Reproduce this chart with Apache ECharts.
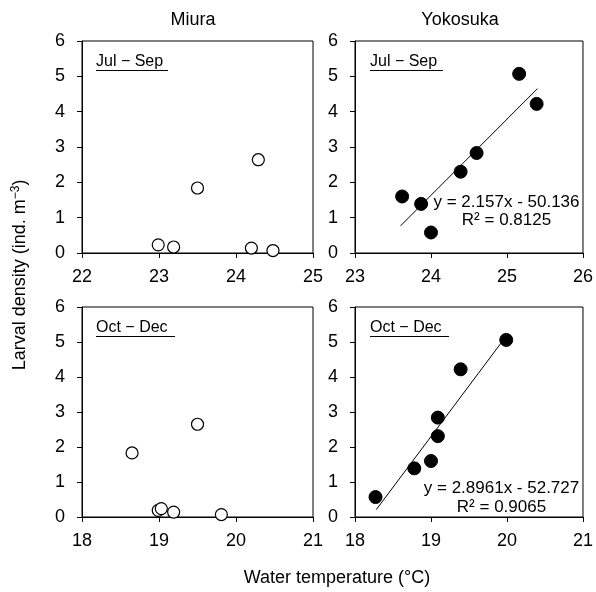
<!DOCTYPE html>
<html><head><meta charset="utf-8">
<script src="https://cdn.jsdelivr.net/npm/echarts@6/dist/echarts.min.js"></script>
<style>html,body{margin:0;padding:0;background:#fff}#c{width:596px;height:592px}</style>
</head><body><div id="c"></div>
<script>
// ---- data ----
const panelTitles = ['Miura', 'Yokosuka'];
const seasonLabels = ['Jul \u2212 Sep', 'Oct \u2212 Dec'];

const miuraJulSepX = [22.99, 23.19, 23.50, 24.29, 24.20, 24.48];
const miuraJulSepY = [0.23, 0.17, 1.84, 2.64, 0.14, 0.07];

const yokoJulSepX = [23.62, 23.87, 24.00, 24.39, 24.60, 25.16, 25.39];
const yokoJulSepY = [1.60, 1.39, 0.58, 2.30, 2.83, 5.07, 4.22];

const miuraOctDecX = [18.65, 19.50, 18.99, 19.03, 19.19, 19.81];
const miuraOctDecY = [1.83, 2.65, 0.19, 0.24, 0.14, 0.07];

const yokoOctDecX = [18.27, 18.78, 19.00, 19.09, 19.09, 19.39, 19.99];
const yokoOctDecY = [0.57, 1.39, 1.60, 2.31, 2.84, 4.22, 5.06];

const trendJulSepX = [23.6, 25.4];
const trendJulSepY = [0.77, 4.65];
const trendOctDecX = [18.28, 19.98];
const trendOctDecY = [0.21, 5.14];

const eqJulSep = ['y = 2.157x - 50.136', 'R\u00b2 = 0.8125'];
const eqOctDec = ['y = 2.8961x - 52.727', 'R\u00b2 = 0.9065'];

const xRanges = [[22, 25], [23, 26], [18, 21], [18, 21]];
const yRange = [0, 6];

const yAxisTitle = 'Larval density (ind. m';
const xAxisTitle = 'Water temperature (\u00b0C)';

// ---- chart ----
const zip = (xs, ys) => xs.map((x, i) => [x, ys[i]]);
const FONT = '"Liberation Sans", Arial, sans-serif';

const grids = [
  {left: 82, top: 41, width: 231, height: 212},
  {left: 355, top: 41, width: 230, height: 212},
  {left: 82, top: 307, width: 231, height: 210},
  {left: 355, top: 307, width: 230, height: 210}
].map(g => Object.assign({show: true, borderColor: '#000', borderWidth: 1, backgroundColor: 'transparent'}, g));

const xAxes = xRanges.map((r, i) => ({
  type: 'value', gridIndex: i, min: r[0], max: r[1], interval: 1,
  splitLine: {show: false},
  axisLine: {lineStyle: {color: '#000', width: 1}},
  axisTick: {inside: false, length: 5, lineStyle: {color: '#000'}},
  axisLabel: {color: '#000', fontSize: 18, fontFamily: FONT, margin: 15, showMinLabel: true, showMaxLabel: true}
}));
const yAxes = [0, 1, 2, 3].map(i => ({
  type: 'value', gridIndex: i, min: yRange[0], max: yRange[1], interval: 1,
  splitLine: {show: false},
  axisLine: {lineStyle: {color: '#000', width: 1}},
  axisTick: {inside: false, length: 5, lineStyle: {color: '#000'}},
  axisLabel: {color: '#000', fontSize: 18, fontFamily: FONT, margin: 17}
}));

const openStyle = {color: '#fff', borderColor: '#000', borderWidth: 1.2, opacity: 1};
const fillStyle = {color: '#000', borderColor: '#000', borderWidth: 1, opacity: 1};

const series = [
  {type: 'scatter', xAxisIndex: 0, yAxisIndex: 0, data: zip(miuraJulSepX, miuraJulSepY), symbolSize: 12, itemStyle: openStyle, z: 3},
  {type: 'line', xAxisIndex: 1, yAxisIndex: 1, data: zip(trendJulSepX, trendJulSepY), symbol: 'none', lineStyle: {color: '#000', width: 1}, z: 2},
  {type: 'scatter', xAxisIndex: 1, yAxisIndex: 1, data: zip(yokoJulSepX, yokoJulSepY), symbolSize: 13, itemStyle: fillStyle, z: 3},
  {type: 'scatter', xAxisIndex: 2, yAxisIndex: 2, data: zip(miuraOctDecX, miuraOctDecY), symbolSize: 12, itemStyle: openStyle, z: 3},
  {type: 'line', xAxisIndex: 3, yAxisIndex: 3, data: zip(trendOctDecX, trendOctDecY), symbol: 'none', lineStyle: {color: '#000', width: 1}, z: 2},
  {type: 'scatter', xAxisIndex: 3, yAxisIndex: 3, data: zip(yokoOctDecX, yokoOctDecY), symbolSize: 13, itemStyle: fillStyle, z: 3}
];

function txt(x, y, text, size, align, extra) {
  return Object.assign({
    type: 'text', x: x, y: y, z: 10,
    style: {text: text, fill: '#000', font: size + 'px ' + FONT, textAlign: align || 'center', textVerticalAlign: 'middle'}
  }, extra || {});
}
function underlined(x, y, text, size, width) {
  return [
    txt(x, y, text, size, 'left'),
    {type: 'rect', z: 10, shape: {x: x, y: Math.round(y + 8), width: width, height: 1}, style: {fill: '#000'}}
  ];
}

const graphic = [
  txt(193, 20, panelTitles[0], 18),
  txt(460, 20, panelTitles[1], 18),
  ...underlined(96, 61.5, seasonLabels[0], 16, 72),
  ...underlined(370, 61.5, seasonLabels[0], 16, 73),
  ...underlined(96, 327.5, seasonLabels[1], 16, 79),
  ...underlined(370, 327.5, seasonLabels[1], 16, 79),
  txt(506.5, 202, eqJulSep[0], 17),
  txt(506.5, 220, eqJulSep[1], 17),
  txt(501.5, 488, eqOctDec[0], 17),
  txt(501.5, 507, eqOctDec[1], 17),
  txt(337, 578, xAxisTitle, 18),
  {
    type: 'text', x: 20, y: 275, rotation: Math.PI / 2, z: 10,
    style: {
      text: yAxisTitle + '{sup|\u22123})',
      fill: '#000', font: '18px ' + FONT, textAlign: 'center', textVerticalAlign: 'middle',
      rich: {sup: {fontSize: 12, fontFamily: FONT, verticalAlign: 'top', fill: '#000', padding: [0, 0, 8, 0]}}
    }
  }
];

const chart = echarts.init(document.getElementById('c'), null, {renderer: 'canvas'});
chart.setOption({
  backgroundColor: '#fff',
  animation: false,
  grid: grids,
  xAxis: xAxes,
  yAxis: yAxes,
  series: series,
  graphic: graphic
});
</script>
</body></html>
